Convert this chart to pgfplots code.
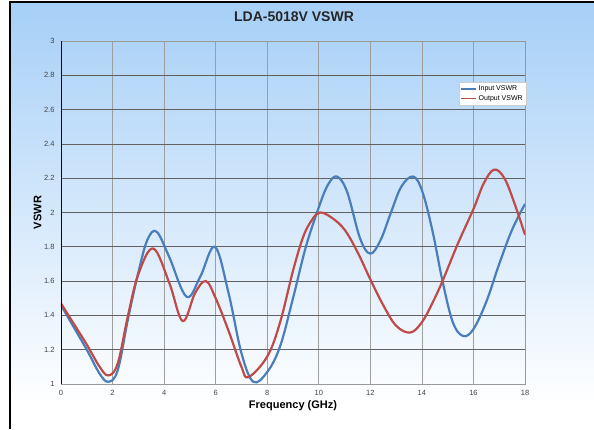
\documentclass[border=0pt]{standalone}
\usepackage{fontspec}
\setmainfont{Liberation Sans}
\usepackage{pgfplots}
\pgfplotsset{compat=1.18}
\definecolor{inblue}{HTML}{4A7EBB}
\definecolor{outred}{HTML}{BE4B48}
\definecolor{bgblue}{HTML}{A6CFF7}
\definecolor{ticktxt}{HTML}{444444}
\begin{document}
\begin{tikzpicture}
\path[use as bounding box] (0pt,0pt) rectangle (594pt,429pt);
\fill[white] (11pt,0pt) rectangle (594pt,427pt);
\shade[top color=bgblue, bottom color=white] (11pt,25pt) rectangle (594pt,427pt);
\draw[line width=2pt] (10pt,0pt) -- (10pt,427pt) -- (594pt,427pt);
\node[font=\bfseries\fontsize{14}{16}\selectfont, text=black!85] at (294pt,412pt) {LDA-5018V VSWR};
\begin{axis}[
    at={(61pt,45pt)}, anchor=south west,
    width=464pt, height=343pt, scale only axis,
    xmin=0, xmax=18, ymin=1, ymax=3,
    xtick={0,2,4,6,8,10,12,14,16,18},
    ytick={1,1.2,1.4,1.6,1.8,2,2.2,2.4,2.6,2.8,3},
    major tick length=0pt,
    tick label style={font=\fontsize{7.5}{9}\selectfont, text=ticktxt},
    /pgf/number format/assume math mode=true,
    xticklabel style={yshift=-3pt},
    yticklabel style={xshift=-3pt},
    xmajorgrids, ymajorgrids,
    x grid style={draw=black!38, line width=0.7pt},
    y grid style={draw=black!62, line width=0.8pt},
    axis line style={draw=black!40, line width=0.7pt},
    xlabel={Frequency (GHz)},
    ylabel={VSWR},
    label style={font=\bfseries\fontsize{11}{13}\selectfont},
    xlabel style={at={(0.5,0)}, anchor=north, yshift=-13pt},
    ylabel style={at={(0,0.5)}, anchor=south, yshift=16pt},
    legend style={at={(1.003,0.88)}, anchor=north east,
        font=\fontsize{7}{8}\selectfont, draw=black!20, fill=white,
        inner sep=1.5pt, row sep=-1pt, cells={anchor=west}},
    legend image code/.code={\draw[#1, line width=1.4pt] (0pt,0pt) -- (15pt,0pt);},
]
\addplot[inblue, line width=2.2pt, smooth, tension=0.6] coordinates {
(0,1.46) (0.5,1.33) (1.0,1.20) (1.5,1.06) (1.84,1.013) (2.2,1.08)
(2.6,1.38) (3.0,1.65) (3.35,1.84) (3.71,1.888) (4.2,1.74) (4.87,1.509)
(5.4,1.625) (5.97,1.80) (6.5,1.53) (7.0,1.18) (7.46,1.013) (8.0,1.07)
(8.5,1.22) (9.0,1.50) (9.5,1.80) (10.0,2.03) (10.35,2.16) (10.7,2.21)
(11.1,2.12) (11.6,1.85) (12.0,1.76) (12.4,1.84) (12.8,2.00) (13.2,2.15)
(13.65,2.21) (14.0,2.13) (14.4,1.90) (14.8,1.60) (15.2,1.36) (15.6,1.28)
(16.0,1.32) (16.5,1.48) (17.0,1.70) (17.5,1.90) (18.0,2.05)
};
\addlegendentry{Input VSWR}
\addplot[outred, line width=2.2pt, smooth, tension=0.6] coordinates {
(0,1.47) (0.5,1.35) (1.0,1.23) (1.5,1.10) (1.84,1.05) (2.2,1.12)
(2.6,1.40) (3.0,1.64) (3.58,1.79) (4.2,1.59) (4.72,1.367) (5.2,1.53)
(5.62,1.60) (6.0,1.50) (6.5,1.31) (7.0,1.10) (7.27,1.04) (8.0,1.16)
(8.5,1.36) (9.0,1.66) (9.4,1.86) (9.75,1.96) (10.05,2.00) (10.5,1.97)
(11.0,1.90) (11.5,1.77) (12.0,1.61) (12.5,1.46) (13.0,1.34) (13.55,1.30)
(14.0,1.36) (14.4,1.47) (14.8,1.60) (15.4,1.82) (16.0,2.02) (16.4,2.17)
(16.8,2.25) (17.2,2.20) (17.6,2.05) (18.0,1.87)
};
\addlegendentry{Output VSWR}
\draw[draw=black!75!blue, line width=0.8pt] (rel axis cs:0,0) -- (rel axis cs:0,1);
\end{axis}
\end{tikzpicture}
\end{document}
